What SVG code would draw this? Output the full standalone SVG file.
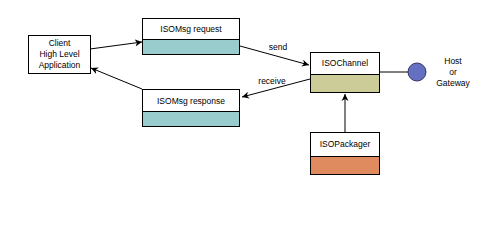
<svg xmlns="http://www.w3.org/2000/svg" width="500" height="225" viewBox="0 0 500 225">
<style>
.box{fill:#fff;stroke:#000;stroke-width:1}
.t{font-family:"Liberation Sans",Arial,sans-serif;font-size:8.5px;fill:#000;text-anchor:middle}
.c{stroke:#000;stroke-width:1;fill:none}
</style>
<defs>
<marker id="a" markerWidth="8" markerHeight="8" refX="7" refY="4" orient="auto" markerUnits="userSpaceOnUse">
<path d="M0,0.5 L7,4 L0,7.5 L2,4 Z" fill="#000"/>
</marker>
</defs>
<rect width="500" height="225" fill="#fff"/>
<g id="connectors">
<line class="c" x1="90" y1="49" x2="142" y2="42" marker-end="url(#a)"/>
<line class="c" x1="240" y1="46" x2="309" y2="65" marker-end="url(#a)"/>
<line class="c" x1="310" y1="79" x2="242" y2="97" marker-end="url(#a)"/>
<line class="c" x1="142" y1="89" x2="91" y2="68" marker-end="url(#a)"/>
<line class="c" x1="345" y1="132" x2="345" y2="94" marker-end="url(#a)"/>
<line class="c" x1="379" y1="72" x2="408" y2="72"/>
<text class="t" x="278" y="50">send</text>
<text class="t" x="272" y="84">receive</text>
</g>
<g id="client">
<rect class="box" x="28.5" y="35.5" width="62" height="38"/>
<text class="t" x="59.5" y="46">Client</text>
<text class="t" x="59.5" y="57">High Level</text>
<text class="t" x="59.5" y="68">Application</text>
</g>
<g id="request">
<rect class="box" x="142.5" y="18.5" width="97" height="36"/>
<rect x="142.5" y="39.5" width="97" height="15" fill="#99cccc" stroke="#000"/>
<text class="t" x="191" y="32">ISOMsg request</text>
</g>
<g id="response">
<rect class="box" x="142.5" y="89.5" width="97" height="37"/>
<rect x="142.5" y="111.5" width="97" height="15" fill="#99cccc" stroke="#000"/>
<text class="t" x="191" y="104">ISOMsg response</text>
</g>
<g id="channel">
<rect class="box" x="310.5" y="52.5" width="69" height="40"/>
<rect x="310.5" y="74.5" width="69" height="18" fill="#cccc99" stroke="#000"/>
<text class="t" x="345" y="66">ISOChannel</text>
</g>
<g id="packager">
<rect class="box" x="310.5" y="132.5" width="69" height="42"/>
<rect x="310.5" y="156.5" width="69" height="18" fill="#e08a60" stroke="#000"/>
<text class="t" x="345" y="147">ISOPackager</text>
</g>
<g id="host">
<circle cx="417" cy="72" r="9" fill="#6670c0" stroke="#333366"/>
<text class="t" x="453" y="64">Host</text>
<text class="t" x="453" y="75">or</text>
<text class="t" x="453" y="86">Gateway</text>
</g>
</svg>
